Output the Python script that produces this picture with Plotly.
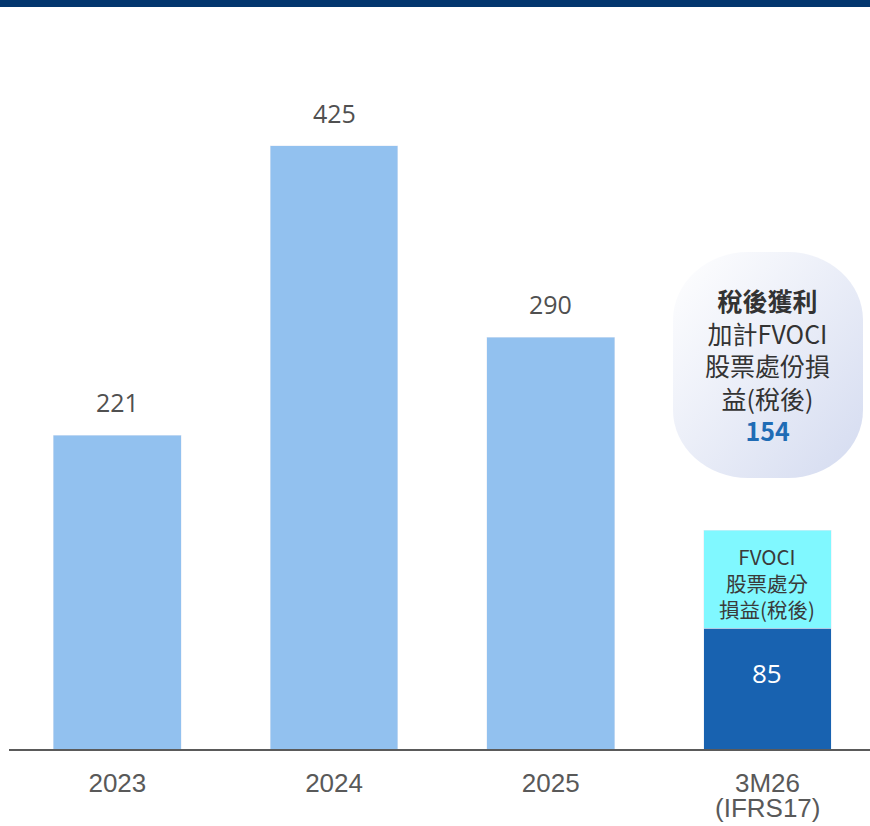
import base64
import plotly.graph_objects as go

# ---- data ----
categories = ["2023", "2024", "2025", "3M26"]
tick_labels = ["2023", "2024", "2025", "3M26"]
tick_sublabel = "(IFRS17)"   # second line under 3M26
annual_cats = ["2023", "2024", "2025"]
annual_values = [221, 425, 290]
q_base_value = 85          # 稅後獲利
q_fvoci_value = 69         # FVOCI 股票處分損益(稅後)
q_total_value = 154

# ---- layout geometry (pixels) ----
W, H = 870, 826
ML, MR, MT, MB = 9, 0, 8, 77
PW, PH = W - ML - MR, H - MT - MB
PX_PER_UNIT = 1.419


def px_x(px):
    return (px - ML) / PW


def px_y(py):
    return (H - MB - py) / PH


fig = go.Figure()
fig.add_trace(go.Bar(x=annual_cats, y=annual_values, marker_color="#92C1EF",
                     width=0.59, hoverinfo="x+y"))
fig.add_trace(go.Bar(x=["3M26"], y=[q_base_value], marker_color="#1862B0",
                     width=0.59, hoverinfo="x+y"))
fig.add_trace(go.Bar(x=["3M26"], y=[q_fvoci_value], marker_color="#80F8FF",
                     width=0.59, hoverinfo="x+y"))

q_idx = categories.index("3M26")
annotations = []
for c, v in zip(annual_cats, annual_values):
    annotations.append(dict(x=categories.index(c), y=v, xref="x", yref="y", text=str(v),
                            showarrow=False, yanchor="middle", yshift=33,
                            font=dict(family="Open Sans", size=25, color="#505050")))
annotations.append(dict(x=q_idx, y=q_base_value, xref="x", yref="y",
                        text=str(q_base_value), showarrow=False,
                        yanchor="middle", yshift=-45,
                        font=dict(family="Open Sans", size=26, color="#FFFFFF")))
annotations.append(dict(x=q_idx, y=q_base_value + q_fvoci_value / 2, xref="x", yref="y",
                        text="FVOCI<br>股票處分<br>損益(稅後)", showarrow=False,
                        yanchor="middle", yshift=-3,
                        font=dict(family="Noto Sans CJK TC", size=20.5, color="#3A3A3A")))
annotations.append(dict(x=q_idx, y=px_y(365), xref="x", yref="paper",
                        text=("<b>稅後獲利</b><br>加計FVOCI<br>股票處份損<br>益(稅後)<br>"
                              f"<b><span style='color:#1F6CB5'>{q_total_value}</span></b>"),
                        showarrow=False, yanchor="middle",
                        font=dict(family="Noto Sans CJK TC", size=25, color="#333333")))
annotations.append(dict(x=q_idx, y=px_y(808), xref="x", yref="paper",
                        text=tick_sublabel, showarrow=False, yanchor="middle",
                        font=dict(family="Liberation Sans", size=26, color="#595959")))

# bubble background (rounded rect with gradient) as svg image
svg = (
    "<svg xmlns='http://www.w3.org/2000/svg' width='190' height='226' viewBox='0 0 190 226'>"
    "<defs><linearGradient id='g' x1='0' y1='0' x2='1' y2='1'>"
    "<stop offset='0' stop-color='#FFFFFF'/><stop offset='1' stop-color='#D4DBF0'/>"
    "</linearGradient></defs>"
    "<rect x='0' y='0' width='190' height='226' rx='75' ry='68' fill='url(#g)'/></svg>"
)
src = "data:image/svg+xml;base64," + base64.b64encode(svg.encode()).decode()

fig.update_layout(
    width=W, height=H,
    margin=dict(l=ML, r=MR, t=MT, b=MB),
    barmode="stack",
    showlegend=False,
    plot_bgcolor="#FFFFFF",
    paper_bgcolor="#FFFFFF",
    annotations=annotations,
    images=[dict(source=src, xref="paper", yref="paper",
                 x=px_x(673), y=px_y(252), sizex=190 / PW, sizey=226 / PH,
                 xanchor="left", yanchor="top", sizing="stretch", layer="below")],
    shapes=[dict(type="rect", xref="paper", yref="paper",
                 x0=-ML / PW - 0.01, x1=1.01, y0=1 + 1 / PH, y1=1 + (MT + 2) / PH,
                 fillcolor="#03366E", line_width=0, layer="above")],
    xaxis=dict(type="category", categoryorder="array", categoryarray=categories,
               tickvals=categories, ticktext=tick_labels,
               range=[-0.5, -0.5 + PW / 216.7],
               showline=True, linecolor="#5A5A5A", linewidth=2,
               showgrid=False, zeroline=False, ticks="", ticklabelstandoff=10,
               tickfont=dict(family="Liberation Sans", size=26, color="#595959")),
    yaxis=dict(range=[0, PH / PX_PER_UNIT], visible=False, showgrid=False,
               zeroline=False),
)

fig.write_html("out.html", config={"displayModeBar": False},
               post_script="document.body.style.margin='0';document.body.style.padding='0';")
